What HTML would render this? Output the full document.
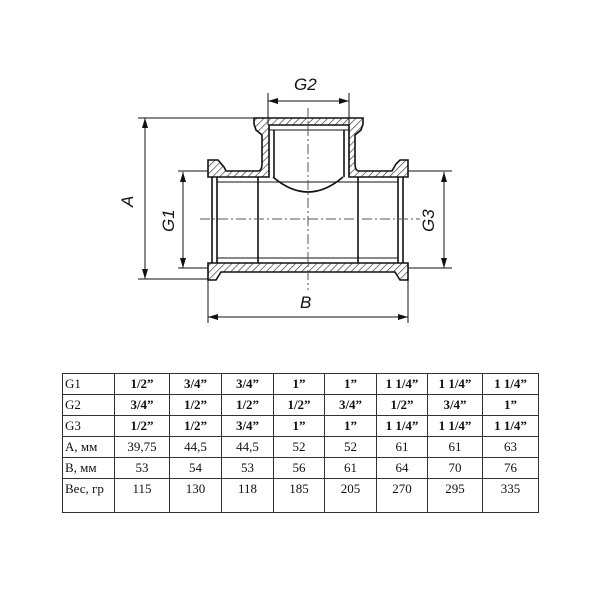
<!DOCTYPE html>
<html><head><meta charset="utf-8"><style>
body{margin:0;background:#fff;width:600px;height:600px;overflow:hidden;position:relative;font-family:"Liberation Serif",serif}
svg{position:absolute;left:0;top:0}
table{position:absolute;left:62px;top:373px;border-collapse:collapse;font-size:13px;color:#111}
td{border:1.5px solid #333;height:20px;padding:0;text-align:center;line-height:20px}
td:first-child{text-align:left;padding-left:2px}
tr.b td{font-weight:bold}
tr.b td:first-child{font-weight:normal}
tr.last td{height:33px;vertical-align:top}
</style></head><body>
<svg width="600" height="370" viewBox="0 0 600 370">
<defs>
<pattern id="h" width="5" height="5" patternUnits="userSpaceOnUse" patternTransform="rotate(45)">
<rect width="5" height="5" fill="#fff"/><line x1="0" y1="0" x2="0" y2="5" stroke="#222" stroke-width="1.2"/></pattern>
<marker id="a" markerWidth="10" markerHeight="6" refX="10" refY="3" orient="auto"><path d="M0,0 L10,3 L0,6z" fill="#111"/></marker>
<marker id="s" markerWidth="10" markerHeight="6" refX="0" refY="3" orient="auto"><path d="M10,0 L0,3 L10,6z" fill="#111"/></marker>
</defs>
<g stroke="#111" stroke-width="1.6" fill="url(#h)">
<path d="M208,160 L218,160 L224,167 L226,171 L258,171 Q262,171 262,163 L262,135 L256,130 L254,124 L254,118 L363,118 L363,124 L361,130 L355,135 L355,163 Q355,171 359,171 L392,171 L396,164 L400,160 L408,160 L408,177 L349,177 L349,125 L269,125 L269,177 L208,177 Z"/>
<path d="M208,263 L408,263 L408,280 L400,280 L395,272 L221,272 L216,280 L208,280 Z"/>
</g>
<g stroke="#111" stroke-width="1.6" fill="none">
<line x1="212" y1="177" x2="212" y2="263"/><line x1="217" y1="177" x2="217" y2="263"/>
<line x1="398" y1="177" x2="398" y2="263"/><line x1="403" y1="177" x2="403" y2="263"/>
<line x1="258" y1="177" x2="258" y2="263"/><line x1="358" y1="177" x2="358" y2="263"/>
<line x1="274" y1="130" x2="274" y2="177"/><line x1="344" y1="130" x2="344" y2="177"/>
<line x1="269" y1="130" x2="349" y2="130" stroke-width="1"/>
<line x1="217" y1="182" x2="398" y2="182" stroke-width="1"/><line x1="217" y1="258" x2="398" y2="258" stroke-width="1"/>
<path d="M273,177 Q308,207 343,177"/>
</g>
<g stroke="#555" stroke-width="1" stroke-dasharray="10,3,2,3" fill="none">
<line x1="308" y1="108" x2="308" y2="290"/><line x1="200" y1="219" x2="420" y2="219"/>
</g>
<g stroke="#111" stroke-width="1" fill="none">
<line x1="138" y1="118" x2="254" y2="118"/><line x1="138" y1="279" x2="208" y2="279"/>
<line x1="145" y1="118" x2="145" y2="279" marker-start="url(#s)" marker-end="url(#a)"/>
<line x1="178" y1="171" x2="208" y2="171"/><line x1="178" y1="268" x2="208" y2="268"/>
<line x1="183" y1="172" x2="183" y2="268" marker-start="url(#s)" marker-end="url(#a)"/>
<line x1="408" y1="171" x2="452" y2="171"/><line x1="408" y1="268" x2="452" y2="268"/>
<line x1="444" y1="172" x2="444" y2="268" marker-start="url(#s)" marker-end="url(#a)"/>
<line x1="268" y1="93" x2="268" y2="125"/><line x1="349" y1="93" x2="349" y2="125"/>
<line x1="268" y1="101" x2="349" y2="101" marker-start="url(#s)" marker-end="url(#a)"/>
<line x1="208" y1="280" x2="208" y2="323"/><line x1="408" y1="280" x2="408" y2="323"/>
<line x1="208" y1="317" x2="408" y2="317" marker-start="url(#s)" marker-end="url(#a)"/>
</g>
<g font-family="Liberation Sans,sans-serif" font-style="italic" font-size="17" fill="#111">
<text x="294" y="90">G2</text>
<text x="300" y="308">B</text>
<text transform="translate(133,207) rotate(-90)">A</text>
<text transform="translate(174,232) rotate(-90)">G1</text>
<text transform="translate(434,232) rotate(-90)">G3</text>
</g>
</svg>
<table style="table-layout:fixed;width:476px;background:#fff">
<colgroup><col style="width:52px"><col style="width:55px"><col style="width:52px"><col style="width:52px"><col style="width:51px"><col style="width:52px"><col style="width:51px"><col style="width:55px"><col style="width:56px"></colgroup>
<tr class="b"><td>G1</td><td>1/2”</td><td>3/4”</td><td>3/4”</td><td>1”</td><td>1”</td><td>1 1/4”</td><td>1 1/4”</td><td>1 1/4”</td></tr>
<tr class="b"><td>G2</td><td>3/4”</td><td>1/2”</td><td>1/2”</td><td>1/2”</td><td>3/4”</td><td>1/2”</td><td>3/4”</td><td>1”</td></tr>
<tr class="b"><td>G3</td><td>1/2”</td><td>1/2”</td><td>3/4”</td><td>1”</td><td>1”</td><td>1 1/4”</td><td>1 1/4”</td><td>1 1/4”</td></tr>
<tr><td>A, мм</td><td>39,75</td><td>44,5</td><td>44,5</td><td>52</td><td>52</td><td>61</td><td>61</td><td>63</td></tr>
<tr><td>B, мм</td><td>53</td><td>54</td><td>53</td><td>56</td><td>61</td><td>64</td><td>70</td><td>76</td></tr>
<tr class="last"><td>Вес, гр</td><td>115</td><td>130</td><td>118</td><td>185</td><td>205</td><td>270</td><td>295</td><td>335</td></tr>
</table>
</body></html>
